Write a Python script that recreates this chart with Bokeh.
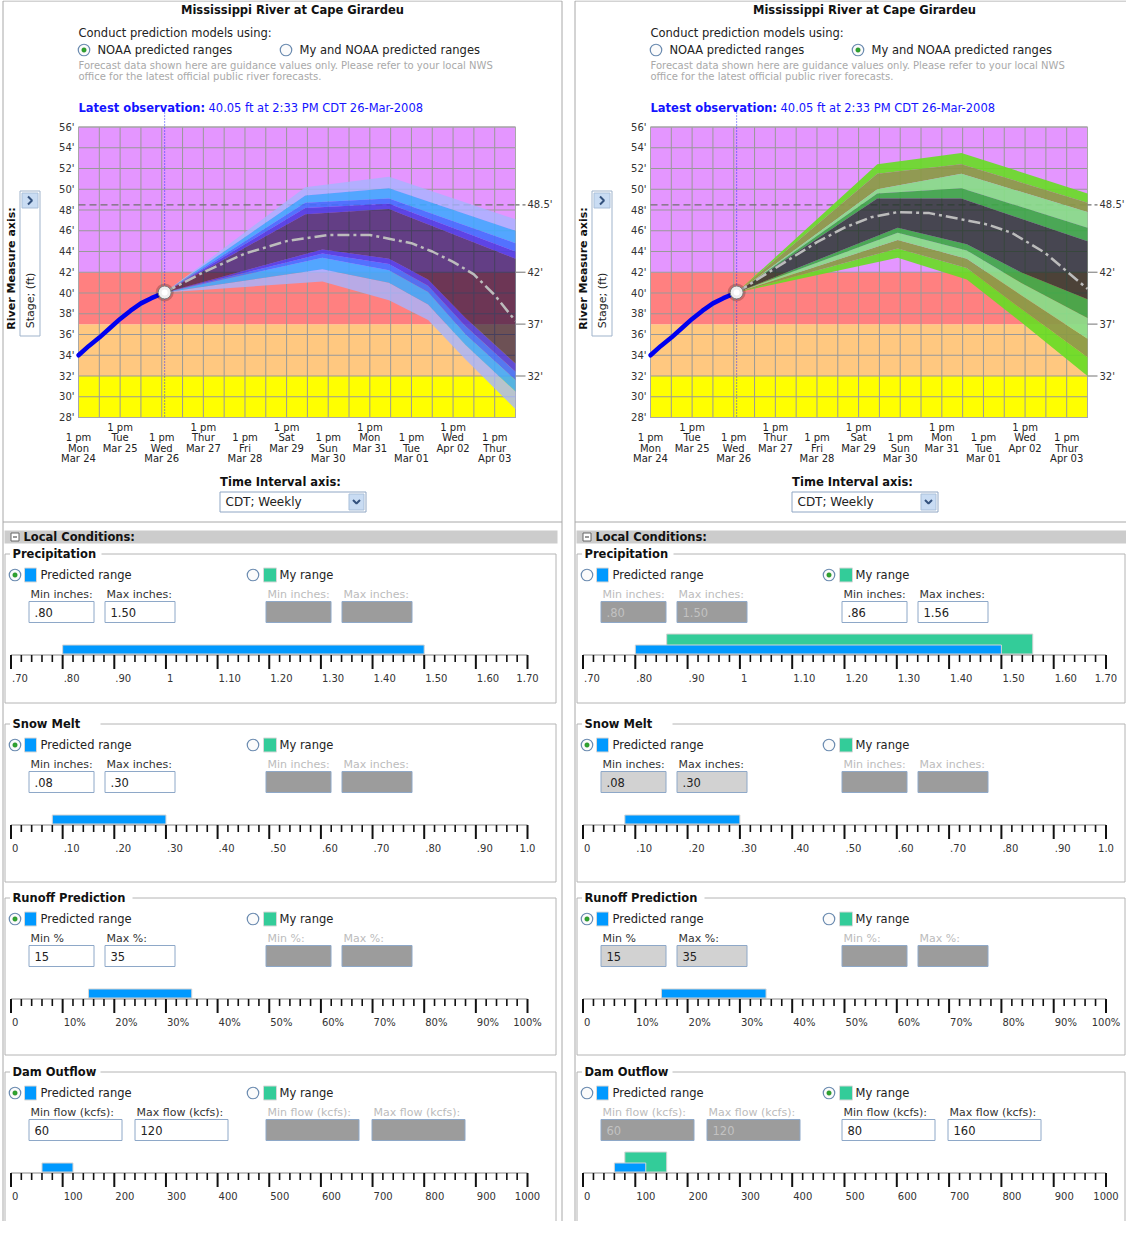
import math
from bokeh.plotting import figure
from bokeh.models import Range1d
from bokeh.layouts import row
from bokeh.embed import file_html
from bokeh.resources import INLINE
from bokeh.core.properties import value

FONT = "DejaVu Sans"

# ============================ DATA ============================
STATION = "Mississippi River at Cape Girardeu"
MODEL_PROMPT = "Conduct prediction models using:"
MODEL_CHOICES = ["NOAA predicted ranges", "My and NOAA predicted ranges"]
DISCLAIMER = [
    "Forecast data shown here are guidance values only.  Please refer to your local NWS",
    "office for the latest official public river forecasts.",
]
LATEST_LABEL = "Latest observation:"
LATEST_VALUE = "40.05 ft at 2:33 PM CDT 26-Mar-2008"
Y_AXIS_TITLE = "River Measure axis:"
Y_AXIS_UNIT = "Stage; (ft)"
X_AXIS_TITLE = "Time Interval axis:"
X_AXIS_CHOICE = "CDT; Weekly"
LOCAL_TITLE = "Local Conditions:"

STAGE_MIN, STAGE_MAX = 28, 56
STAGE_TICKS = [28, 30, 32, 34, 36, 38, 40, 42, 44, 46, 48, 50, 52, 54, 56]
STAGE_TICK_LABELS = ["28'", "30'", "32'", "34'", "36'", "38'", "40'", "42'",
                     "44'", "46'", "48'", "50'", "52'", "54'", "56'"]
DAY_TICKS = [0, 1, 2, 3, 4, 5, 6, 7, 8, 9, 10]
DAY_GRID = [0, 0.5, 1, 1.5, 2, 2.5, 3, 3.5, 4, 4.5, 5, 5.5, 6, 6.5, 7, 7.5,
            8, 8.5, 9, 9.5, 10, 10.5]
DAY_END = 10.5
DAY_HOUR = ["1 pm"] * 11
DAY_NAME = ["Mon", "Tue", "Wed", "Thur", "Fri", "Sat", "Sun", "Mon", "Tue", "Wed", "Thur"]
DAY_DATE = ["Mar 24", "Mar 25", "Mar 26", "Mar 27", "Mar 28", "Mar 29", "Mar 30",
            "Mar 31", "Mar 01", "Apr 02", "Apr 03"]

ZONE_BOTTOM = [28, 32, 37, 42]
ZONE_TOP = [32, 37, 42, 56]
ZONE_COLORS = ["#ffff00", "#ffc880", "#ff8080", "#e496ff"]

FLOOD_LEVELS = [48.5, 42, 37, 32]
FLOOD_LABELS = ["48.5'", "42'", "37'", "32'"]

OBS_DAY = [0.0, 0.25, 0.5, 0.75, 1.0, 1.25, 1.5, 1.75, 2.07]
OBS_STAGE = [34.0, 34.9, 35.7, 36.6, 37.5, 38.3, 39.0, 39.5, 40.05]
NOW_DAY, NOW_STAGE = 2.07, 40.05

# forecast envelopes: index 0 = outermost boundary ... last = core boundary
NOAA_MEDIAN_DAY = [2.07, 3, 4, 5, 6, 7, 8, 8.5, 9, 9.5, 10, 10.5]
NOAA_MEDIAN_STAGE = [40.05, 42.0, 43.8, 45.0, 45.6, 45.6, 44.8, 44.0, 43.0, 41.8, 39.8, 37.3]
NOAA_UPPER_DAY = [2.07, 5.45, 7.46, 10.5]
NOAA_UPPER = [
    [40.05, 50.2, 51.2, 47.1],
    [40.05, 49.4, 50.1, 46.0],
    [40.05, 48.7, 49.1, 44.8],
    [40.05, 48.2, 48.6, 44.0],
    [40.05, 47.6, 48.1, 43.3],
]
NOAA_LOWER_DAY = [2.07, 5.86, 7.46, 8.4, 9.3, 10.5]
NOAA_LOWER = [
    [40.05, 41.1, 39.3, 37.4, 33.6, 28.8],
    [40.05, 42.3, 41.0, 38.9, 35.0, 30.5],
    [40.05, 43.4, 42.2, 40.1, 36.0, 31.6],
    [40.05, 43.8, 42.8, 40.7, 36.8, 32.4],
    [40.05, 44.2, 43.3, 41.3, 37.6, 33.2],
]
NOAA_BAND_COLORS = ["#a6b4ff", "#3fa8ff", "#3f6cff", "#4636e0", "#14083a"]
NOAA_BAND_ALPHAS = [0.8, 0.88, 0.88, 0.85, 0.62]

MY_MEDIAN_DAY = [2.07, 3.0, 4.0, 4.66, 5.3, 5.94, 6.7, 7.47, 8.1, 8.68, 9.47, 10.5]
MY_MEDIAN_STAGE = [40.05, 42.4, 44.9, 46.3, 47.3, 47.8, 47.7, 47.1, 46.6, 45.8, 43.9, 40.4]
MY_UPPER_DAY = [2.07, 5.45, 7.47, 10.5]
MY_UPPER = [
    [40.05, 52.4, 53.5, 49.6],
    [40.05, 51.5, 52.4, 48.7],
    [40.05, 50.0, 51.5, 47.8],
    [40.05, 49.6, 50.1, 46.3],
    [40.05, 49.1, 49.1, 45.0],
]
MY_LOWER_DAY = [2.07, 5.94, 7.6, 8.9, 10.5]
MY_LOWER = [
    [40.05, 43.4, 41.3, 37.2, 32.0],
    [40.05, 44.3, 42.4, 38.5, 33.8],
    [40.05, 45.1, 43.3, 39.8, 35.6],
    [40.05, 45.8, 44.1, 41.0, 37.6],
    [40.05, 46.3, 44.7, 42.0, 39.4],
]
MY_BAND_COLORS = ["#66dd22", "#8a9a44", "#88dd88", "#3aa844", "#1f3226"]
MY_BAND_ALPHAS = [0.9, 0.92, 0.92, 0.9, 0.8]

# local conditions
SECTION_TITLES = ["Precipitation", "Snow Melt", "Runoff Prediction", "Dam Outflow"]
RANGE_CHOICES = ["Predicted range", "My range"]
PRECIP_TICKS = [0.70, 0.80, 0.90, 1.00, 1.10, 1.20, 1.30, 1.40, 1.50, 1.60, 1.70]
PRECIP_TICK_LABELS = [".70", ".80", ".90", "1", "1.10", "1.20", "1.30", "1.40", "1.50", "1.60", "1.70"]
PRECIP_PREDICTED = [0.80, 1.50]
PRECIP_MINE = [0.86, 1.56]
PRECIP_FIELDS = ["Min inches:", "Max inches:"]
SNOW_TICKS = [0.0, 0.1, 0.2, 0.3, 0.4, 0.5, 0.6, 0.7, 0.8, 0.9, 1.0]
SNOW_TICK_LABELS = ["0", ".10", ".20", ".30", ".40", ".50", ".60", ".70", ".80", ".90", "1.0"]
SNOW_PREDICTED = [0.08, 0.30]
SNOW_FIELDS = ["Min inches:", "Max inches:"]
RUNOFF_TICKS = [0, 10, 20, 30, 40, 50, 60, 70, 80, 90, 100]
RUNOFF_TICK_LABELS = ["0", "10%", "20%", "30%", "40%", "50%", "60%", "70%", "80%", "90%", "100%"]
RUNOFF_PREDICTED = [15, 35]
RUNOFF_FIELDS = ["Min %", "Max %:"]
RUNOFF_FIELDS_MINE = ["Min %:", "Max %:"]
DAM_TICKS = [0, 100, 200, 300, 400, 500, 600, 700, 800, 900, 1000]
DAM_TICK_LABELS = ["0", "100", "200", "300", "400", "500", "600", "700", "800", "900", "1000"]
DAM_PREDICTED = [60, 120]
DAM_MINE = [80, 160]
DAM_FIELDS = ["Min flow (kcfs):", "Max flow (kcfs):"]
MINOR_DIVISIONS = 5

# ============================ LAYOUT / STYLE ============================
W_LEFT, W_RIGHT, PAGE_H = 572, 554, 1221
CH_L, CH_R, CH_T, CH_B = 78, 515, 126.5, 417
SEC_TOP = [553.5, 723.5, 897.5, 1071.5]
SEC_BOTTOM = [702.5, 881.5, 1054.5, 1240]
SEC_GAP_END = [101, 100, 132, 100]
FS_L, FS_R = 4.5, 555.5
RULER_X0 = 10.5
RULER_X1 = {"noaa": 527.0, "my": 533.5}
STD_BOX_X = [(28, 93), (104, 174)]
DAM_BOX_X = [(28, 121), (134, 227)]
COL2_SHIFT = 237
BLUE = "#0099ff"
GREEN = "#33cc99"
PANEL_LINE = "#a8a8a8"


def inch_fmt(v):
    return f"{v:.2f}".lstrip("0")


def num_fmt(v):
    return f"{v:g}"


SECTIONS = [
    dict(title=SECTION_TITLES[0], ticks=PRECIP_TICKS, labels=PRECIP_TICK_LABELS,
         pred=PRECIP_PREDICTED, fields=PRECIP_FIELDS, fields_mine=PRECIP_FIELDS,
         fmt=inch_fmt, boxes=STD_BOX_X),
    dict(title=SECTION_TITLES[1], ticks=SNOW_TICKS, labels=SNOW_TICK_LABELS,
         pred=SNOW_PREDICTED, fields=SNOW_FIELDS, fields_mine=SNOW_FIELDS,
         fmt=inch_fmt, boxes=STD_BOX_X),
    dict(title=SECTION_TITLES[2], ticks=RUNOFF_TICKS, labels=RUNOFF_TICK_LABELS,
         pred=RUNOFF_PREDICTED, fields=RUNOFF_FIELDS, fields_mine=RUNOFF_FIELDS_MINE,
         fmt=num_fmt, boxes=STD_BOX_X),
    dict(title=SECTION_TITLES[3], ticks=DAM_TICKS, labels=DAM_TICK_LABELS,
         pred=DAM_PREDICTED, fields=DAM_FIELDS, fields_mine=DAM_FIELDS,
         fmt=num_fmt, boxes=DAM_BOX_X),
]
PANEL_MINE = {"noaa": [None, None, None, None],
              "my": [PRECIP_MINE, None, None, DAM_MINE]}


# ============================ HELPERS ============================
def _lst(v, n):
    return list(v) if isinstance(v, (list, tuple)) else [v] * n


def _ranges(xr, yr):
    kw = {}
    if xr:
        kw["x_range_name"] = xr
    if yr:
        kw["y_range_name"] = yr
    return kw


def T(p, x, y, text, size="11.5px", color="#222222", bold=False, align="left",
      baseline="middle", angle=0.0, xr=None, yr=None, x_offset=0):
    n = max(len(v) if isinstance(v, (list, tuple)) else 1 for v in (x, y, text))
    p.text(x=_lst(x, n), y=_lst(y, n), text=_lst(text, n), text_font=value(FONT),
           text_font_size=size, text_color=color,
           text_font_style="bold" if bold else "normal",
           text_align=align, text_baseline=baseline, angle=angle,
           x_offset=x_offset, **_ranges(xr, yr))


def S(p, x0, y0, x1, y1, color, width=1.0, dash="solid", alpha=1.0, xr=None, yr=None):
    n = max(len(v) if isinstance(v, (list, tuple)) else 1 for v in (x0, y0, x1, y1))
    p.segment(x0=_lst(x0, n), y0=_lst(y0, n), x1=_lst(x1, n), y1=_lst(y1, n),
              line_color=color, line_width=width, line_dash=dash, line_alpha=alpha,
              **_ranges(xr, yr))


def B(p, l, r, t, b, fill=None, line=None, width=1.0, alpha=1.0, xr=None, yr=None):
    p.quad(left=[l], right=[r], top=[t], bottom=[b], fill_color=fill,
           fill_alpha=alpha, line_color=line, line_width=width, **_ranges(xr, yr))


def radio(p, x, y, checked):
    p.scatter([x], [y], marker="circle", size=11.5, fill_color="#fbfbfb",
              line_color="#6b8bb0", line_width=1.2)
    if checked:
        p.scatter([x], [y], marker="circle", size=4.5, fill_color="#2fa52f",
                  line_color="#1f7f1f", line_width=0.5)


def strip(p, xa, ya, xb, yb, color, alpha):
    p.patch(x=list(xa) + list(reversed(xb)), y=list(ya) + list(reversed(yb)),
            fill_color=color, fill_alpha=alpha, line_color=None,
            x_range_name="cx", y_range_name="cy")


# ============================ PANEL ============================
def build_panel(W, mode):
    H = PAGE_H
    my = mode == "my"
    ppd = (CH_R - CH_L) / DAY_END
    ppf = (CH_B - CH_T) / (STAGE_MAX - STAGE_MIN)
    extra_x = {"cx": Range1d(-CH_L / ppd, (W - CH_L) / ppd)}
    extra_y = {"cy": Range1d(STAGE_MAX - (H - CH_T) / ppf, STAGE_MAX + CH_T / ppf)}
    r0, r1 = RULER_X0, RULER_X1[mode]
    for k, sec in enumerate(SECTIONS):
        lo, hi = sec["ticks"][0], sec["ticks"][-1]
        s = (r1 - r0) / (hi - lo)
        extra_x[f"s{k}"] = Range1d(lo - r0 / s, lo + (W - r0) / s)

    p = figure(width=W, height=H, x_range=Range1d(0, W), y_range=Range1d(H, 0),
               extra_x_ranges=extra_x, extra_y_ranges=extra_y,
               x_axis_type=None, y_axis_type=None, min_border=0,
               output_backend="svg", toolbar_location=None,
               outline_line_color=None, background_fill_color="white",
               border_fill_color="white")

    # panel frame
    S(p, [2.5, 561.5, 2.5, 2.5], [0.5, 0.5, 0.5, 521.5], [2.5, 561.5, 561.5, 561.5],
      [H, H, 0.5, 521.5], PANEL_LINE)

    # header
    T(p, 292, 9.5, STATION, bold=True, align="center", color="#111111")
    T(p, 78, 32, MODEL_PROMPT)
    radio(p, 83.5, 49.5, not my)
    T(p, 97, 49.5, MODEL_CHOICES[0])
    radio(p, 285.5, 49.5, my)
    T(p, 299, 49.5, MODEL_CHOICES[1])
    T(p, 78, 64.5, DISCLAIMER[0], size="10px", color="#a9a9a9")
    T(p, 78, 76, DISCLAIMER[1], size="10px", color="#a9a9a9")
    T(p, 78, 107, LATEST_LABEL, bold=True, color="#1414ff")
    T(p, 208, 107, LATEST_VALUE, color="#1414ff")

    # ---------------- river chart ----------------
    cx = dict(xr="cx", yr="cy")
    n = len(ZONE_BOTTOM)
    p.quad(left=[DAY_GRID[0]] * n, right=[DAY_END] * n, bottom=ZONE_BOTTOM, top=ZONE_TOP,
           fill_color=ZONE_COLORS, line_color=None, x_range_name="cx", y_range_name="cy")
    S(p, DAY_GRID, STAGE_MIN, DAY_GRID, STAGE_MAX, "#999999", 1.0, **cx)
    S(p, DAY_GRID[0], STAGE_TICKS, DAY_END, STAGE_TICKS, "#999999", 1.0, **cx)
    B(p, DAY_GRID[0], DAY_END, STAGE_MAX, STAGE_MIN, fill=None, line="#a8a8a8", **cx)
    S(p, NOW_DAY, 112, NOW_DAY, CH_B, "#2a2aff", 1.0, dash="1 2", xr="cx")
    S(p, DAY_GRID[0], FLOOD_LEVELS[0], DAY_END, FLOOD_LEVELS[0], "#707070", 1.3,
      dash="7 4", **cx)

    if my:
        ux, ups, lx, lows, cols, alps = (MY_UPPER_DAY, MY_UPPER, MY_LOWER_DAY, MY_LOWER,
                                         MY_BAND_COLORS, MY_BAND_ALPHAS)
        mdx, mdy = MY_MEDIAN_DAY, MY_MEDIAN_STAGE
    else:
        ux, ups, lx, lows, cols, alps = (NOAA_UPPER_DAY, NOAA_UPPER, NOAA_LOWER_DAY,
                                         NOAA_LOWER, NOAA_BAND_COLORS, NOAA_BAND_ALPHAS)
        mdx, mdy = NOAA_MEDIAN_DAY, NOAA_MEDIAN_STAGE
    for i in range(len(ups) - 1):
        strip(p, ux, ups[i], ux, ups[i + 1], cols[i], alps[i])
        strip(p, lx, lows[i], lx, lows[i + 1], cols[i], alps[i])
    strip(p, ux, ups[-1], lx, lows[-1], cols[-1], alps[-1])

    p.line(mdx, mdy, line_color="#bcbcbc", line_width=2.5, line_dash="12 4 3 4",
           x_range_name="cx", y_range_name="cy")
    p.line(OBS_DAY, OBS_STAGE, line_color="#0000f0", line_width=4.5, line_cap="round",
           x_range_name="cx", y_range_name="cy")
    p.scatter([NOW_DAY], [NOW_STAGE], size=18, fill_color="#000000", fill_alpha=0.2,
              line_color=None, x_range_name="cx", y_range_name="cy")
    p.scatter([NOW_DAY], [NOW_STAGE], size=13, fill_color="#eeeeee", line_color="#7a7a7a",
              line_width=1, x_range_name="cx", y_range_name="cy")
    p.scatter([NOW_DAY], [NOW_STAGE], size=6, fill_color="#ffffff", line_color=None,
              x_range_name="cx", y_range_name="cy")

    # y tick labels
    T(p, CH_L - 4, STAGE_TICKS, STAGE_TICK_LABELS, size="10px", color="#333333",
      align="right", yr="cy")
    # x tick labels (staggered)
    ev = [i % 2 == 0 for i in range(len(DAY_TICKS))]
    y1 = [437 if e else 426.5 for e in ev]
    y2 = [447.5 if e else 437 for e in ev]
    y3 = [458 if e else 447.5 for e in ev]
    T(p, DAY_TICKS, y1, DAY_HOUR, size="10px", color="#222222", align="center", xr="cx")
    T(p, DAY_TICKS, y2, DAY_NAME, size="10px", color="#222222", align="center", xr="cx")
    T(p, DAY_TICKS, y3, DAY_DATE, size="10px", color="#222222", align="center", xr="cx")
    # right flood labels
    S(p, CH_R, FLOOD_LEVELS[:1], CH_R + 10, FLOOD_LEVELS[:1], "#707070", 1.3,
      dash="4 3", yr="cy")
    S(p, CH_R, FLOOD_LEVELS[1:], CH_R + 10, FLOOD_LEVELS[1:], "#8a8a8a", 1.2, yr="cy")
    T(p, CH_R + 12, FLOOD_LEVELS, FLOOD_LABELS, size="10px", color="#333333", yr="cy")

    # y axis titles / stage box
    T(p, 10.5, 268, Y_AXIS_TITLE, bold=True, align="center", angle=math.pi / 2,
      color="#111111", size="11px")
    B(p, 19.5, 39.5, 190.5, 335.5, fill="#ffffff", line="#9fb3cb")
    B(p, 21.5, 37.5, 192.5, 207.5, fill="#c9dcf3", line="#a9bfd9")
    p.line([27.5, 31.5, 27.5], [196, 200, 204], line_color="#34527e", line_width=2)
    T(p, 30, 300, Y_AXIS_UNIT, align="center", angle=math.pi / 2, size="11px")

    # time interval control
    T(p, 280, 481, X_AXIS_TITLE, bold=True, align="center", color="#111111")
    B(p, 219.5, 365.5, 491.5, 511.5, fill="#ffffff", line="#8fa6c4")
    T(p, 225, 501.5, X_AXIS_CHOICE, size="12px")
    B(p, 348.5, 363.5, 493.5, 509.5, fill="#c9dcf3", line="#a9bfd9")
    p.line([352.5, 356, 359.5], [499.5, 503, 499.5], line_color="#34527e", line_width=2)

    # local conditions header
    B(p, 4, min(557, W), 530, 543, fill="#cccccc", line=None)
    B(p, 10.5, 18.5, 532.5, 540.5, fill="#ffffff", line="#666666")
    S(p, 12.5, 536.5, 16.5, 536.5, "#333333", 1.2)
    T(p, 23, 536.5, LOCAL_TITLE, bold=True, color="#111111")

    # sections
    dx = 4 if my else 0
    fs_r = FS_R if W > FS_R + 2 else W - 1.5
    for k, sec in enumerate(SECTIONS):
        mine = PANEL_MINE[mode][k]
        L = SEC_TOP[k]
        bot = SEC_BOTTOM[k]
        S(p, [FS_L, SEC_GAP_END[k], FS_L, fs_r, FS_L], [L, L, L, L, bot],
          [FS_L + 5, fs_r, FS_L, fs_r, fs_r], [L, L, bot, bot, bot], "#b4b4b4")
        T(p, 12, L, sec["title"], bold=True, color="#111111")
        pred_on = mine is None
        yr_ = L + 21
        radio(p, 14.5, yr_, pred_on)
        B(p, 24, 36, L + 14, L + 28, fill=BLUE, line="#d8d8d8")
        T(p, 40, yr_, RANGE_CHOICES[0])
        radio(p, 252.5 + dx, yr_, not pred_on)
        B(p, 263 + dx, 276 + dx, L + 14, L + 28, fill=GREEN, line="#d8d8d8")
        T(p, 279 + dx, yr_, RANGE_CHOICES[1])

        if pred_on and not my:
            st1 = "on"
        elif pred_on:
            st1 = "ro"
        else:
            st1 = "off_val"
        st2 = "on" if mine is not None else "off"
        boxes2 = [(a + COL2_SHIFT + dx, b + COL2_SHIFT + dx) for a, b in sec["boxes"]]
        vals1 = [sec["fmt"](v) for v in sec["pred"]]
        vals2 = [sec["fmt"](v) for v in mine] if mine is not None else [None, None]
        for boxes, fields, vals, st in ((sec["boxes"], sec["fields"], vals1, st1),
                                        (boxes2, sec["fields_mine"], vals2, st2)):
            for (a, b), f, v in zip(boxes, fields, vals):
                lab_col = "#bcbcbc" if st in ("off", "off_val") else "#333333"
                T(p, a + 2, L + 40, f, size="11px", color=lab_col)
                fill = {"on": "#ffffff", "ro": "#d2d2d2", "off": "#9c9c9c",
                        "off_val": "#9c9c9c"}[st]
                B(p, a + 0.5, b + 0.5, L + 47.5, L + 68.5, fill=fill, line="#8ea8c8")
                if v is not None:
                    T(p, a + 6, L + 58, v,
                      color="#c2c2c2" if st == "off_val" else "#222222")

        xr = f"s{k}"
        ticks = sec["ticks"]
        minor = [ticks[i] + (ticks[i + 1] - ticks[i]) * j / MINOR_DIVISIONS
                 for i in range(len(ticks) - 1) for j in range(1, MINOR_DIVISIONS)]
        if mine is not None:
            B(p, mine[0], mine[1], L + 80, L + 100, fill=GREEN, line="#d4d4d4", xr=xr)
        B(p, sec["pred"][0], sec["pred"][1], L + 91, L + 100, fill=BLUE,
          line="#d4d4d4", xr=xr)
        yl = L + 101
        S(p, ticks[0], yl, ticks[-1], yl, "#888888", 1.0, xr=xr)
        S(p, ticks, yl, ticks, L + 115, "#111111", 2.0, xr=xr)
        S(p, minor, yl, minor, L + 108, "#111111", 1.6, xr=xr)
        T(p, ticks[:-1], L + 124, sec["labels"][:-1], size="10px", color="#333333",
          xr=xr, x_offset=1)
        T(p, ticks[-1:], L + 124, sec["labels"][-1:], size="10px", color="#333333",
          align="center", xr=xr)
    return p


left = build_panel(W_LEFT, "noaa")
right = build_panel(W_RIGHT, "my")
layout = row(left, right)
open("out.html", "w").write(file_html(layout, INLINE, "Mississippi River at Cape Girardeu"))
